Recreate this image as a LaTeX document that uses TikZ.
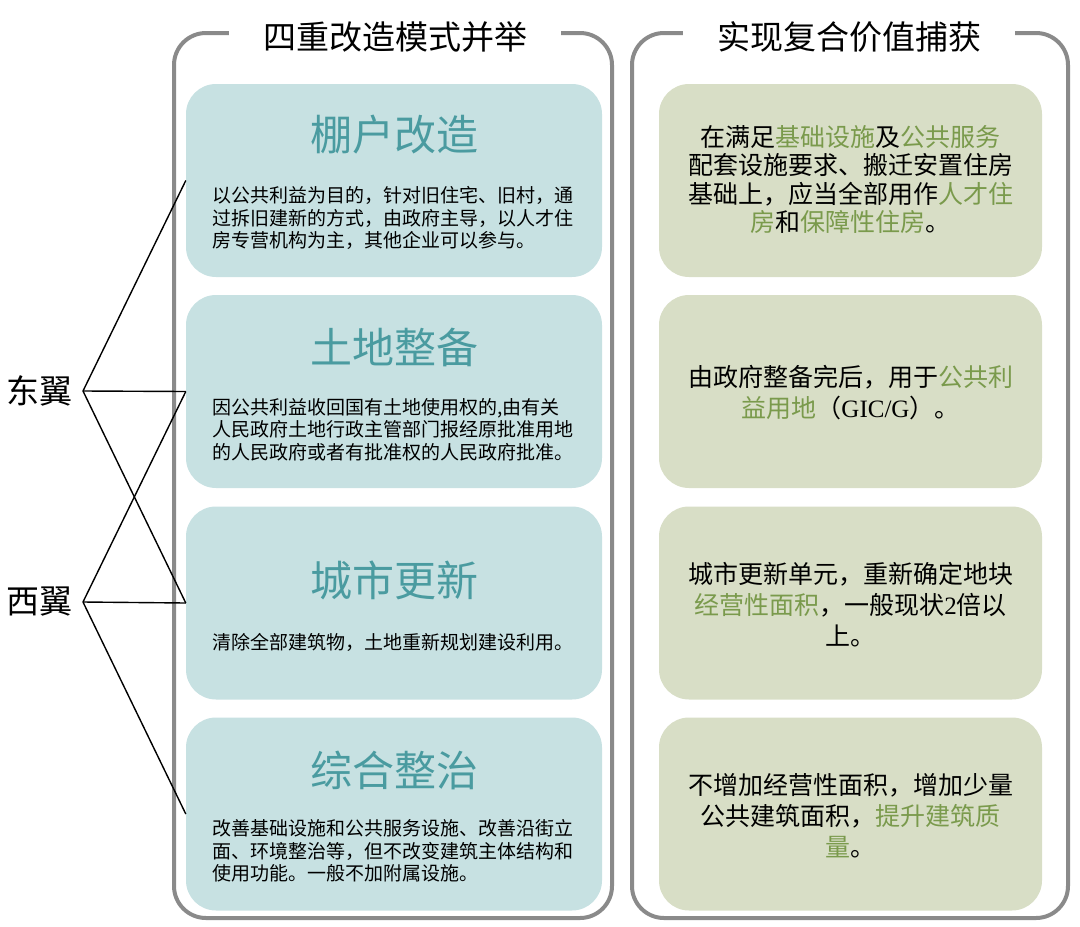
\documentclass[tikz,border=0pt]{standalone}
\usepackage{fontspec}
\newfontfamily\song{Noto Sans CJK SC}
\newfontfamily\lat{Liberation Serif}
\definecolor{lboxc}{HTML}{C7E1E2}
\definecolor{rboxc}{HTML}{D8DEC6}
\definecolor{ltit}{HTML}{4A9BA0}
\definecolor{hl}{HTML}{7A9A4C}
\definecolor{framec}{HTML}{8A8A8A}
\newcommand\hlt[1]{\textcolor{hl}{#1}}
\begin{document}
\begin{tikzpicture}[x=1pt,y=-1pt,
 lbox/.style={fill=lboxc, rounded corners=30pt, minimum width=416pt, minimum height=193pt, inner sep=0pt},
 rbox/.style={fill=rboxc, rounded corners=30pt, minimum width=383pt, minimum height=193pt, inner sep=0pt},
 frame/.style={draw=framec, line width=4pt, rounded corners=32pt, minimum height=885pt, inner sep=0pt},
 head/.style={fill=white, font=\song\fontsize{33}{36}\selectfont, inner xsep=34pt, inner ysep=3pt},
 ltitle/.style={text=ltit, font=\song\fontsize{42}{46}\selectfont, inner sep=0pt},
 lbody/.style={font=\song\fontsize{19}{22.5}\selectfont, align=left, anchor=west, inner sep=0pt},
 rbody/.style={font=\song\fontsize{25}{31}\selectfont, align=center, inner sep=0pt},
 wing/.style={font=\song\fontsize{33}{36}\selectfont, anchor=east, inner xsep=10pt, inner ysep=0pt},
 conn/.style={draw=black, line width=1.4pt}]
\useasboundingbox (0,0) rectangle (1080,927);
% frames
\node[frame, minimum width=438pt] (LF) at (393,475.5) {};
\node[frame, minimum width=436pt] (RF) at (850,475.5) {};
\node[head] (LH) at (395,37) {四重改造模式并举};
\node[head] (RH) at (849,37) {实现复合价值捕获};
% left boxes
\node[lbox] (L1) at (394,180.5) {};
\node[lbox] (L2) at (394,391.5) {};
\node[lbox] (L3) at (394,603) {};
\node[lbox] (L4) at (394,814) {};
\node[ltitle] (L1t) at (394,135) {棚户改造};
\node[ltitle] (L2t) at (394,347) {土地整备};
\node[ltitle] (L3t) at (394,580) {城市更新};
\node[ltitle] (L4t) at (394,770) {综合整治};
\node[lbody] (L1b) at (212,218) {以公共利益为目的，针对旧住宅、旧村，通\\过拆旧建新的方式，由政府主导，以人才住\\房专营机构为主，其他企业可以参与。};
\node[lbody] (L2b) at (212,429.5) {因公共利益收回国有土地使用权的,由有关\\人民政府土地行政主管部门报经原批准用地\\的人民政府或者有批准权的人民政府批准。};
\node[lbody] (L3b) at (212,642) {清除全部建筑物，土地重新规划建设利用。};
\node[lbody] (L4b) at (212,851) {改善基础设施和公共服务设施、改善沿街立\\面、环境整治等，但不改变建筑主体结构和\\使用功能。一般不加附属设施。};
% right boxes
\node[rbox] (R1) at (850.5,180.5) {};
\node[rbox] (R2) at (850.5,391.5) {};
\node[rbox] (R3) at (850.5,603) {};
\node[rbox] (R4) at (850.5,814) {};
\node[rbody, font=\song\fontsize{25}{28.5}\selectfont] (R1b) at (850.5,179.5) {在满足\hlt{基础设施}及\hlt{公共服务}\\配套设施要求、搬迁安置住房\\基础上，应当全部用作\hlt{人才住}\\\hlt{房}和\hlt{保障性住房}。};
\node[rbody] (R2b) at (850.5,392.5) {由政府整备完后，用于\hlt{公共利}\\\hlt{益用地}（{\lat GIC/G}）。};
\node[rbody] (R3b) at (850.5,605) {城市更新单元，重新确定地块\\\hlt{经营性面积}，一般现状{\lat 2}倍以\\上。};
\node[rbody] (R4b) at (850.5,816) {不增加经营性面积，增加少量\\公共建筑面积，\hlt{提升建筑质}\\\hlt{量}。};
% wings
\node[wing] (dong) at (83,391) {东翼};
\node[wing] (xi) at (83,602) {西翼};
\draw[conn] (dong.east) -- (L1.west);
\draw[conn] (dong.east) -- (L2.west);
\draw[conn] (dong.east) -- (L3.west);
\draw[conn] (xi.east) -- (L2.west);
\draw[conn] (xi.east) -- (L3.west);
\draw[conn] (xi.east) -- (L4.west);
\end{tikzpicture}
\end{document}
